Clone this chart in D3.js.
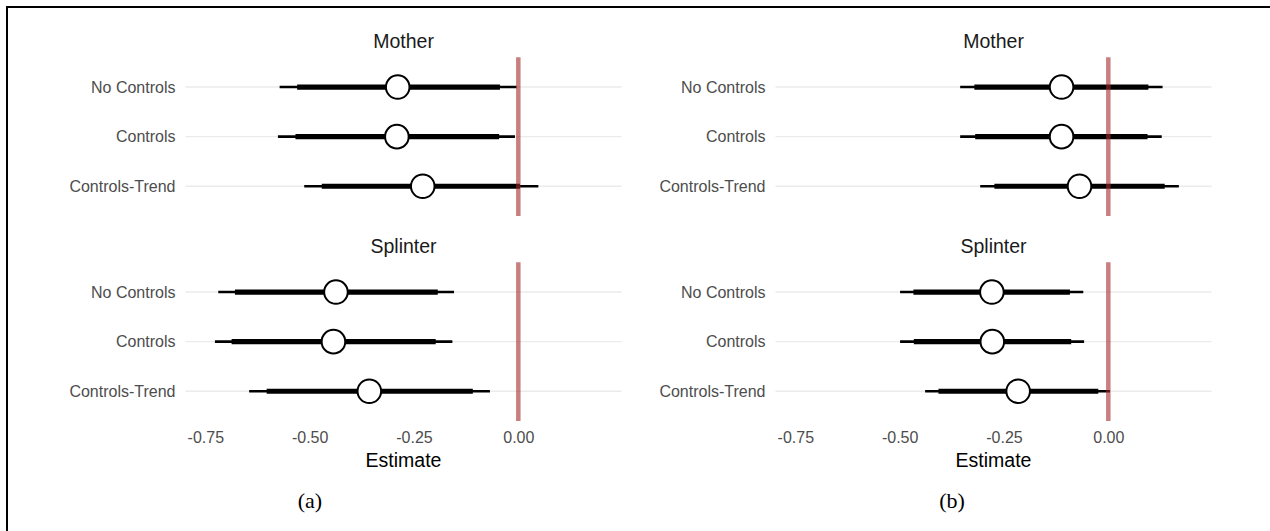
<!DOCTYPE html>
<meta charset="utf-8">
<style>
body { margin: 0; background: #fff; }
svg { display: block; font-family: "Liberation Sans", Arial, sans-serif; }
.grid line { stroke: #ebebeb; stroke-width: 1.4; }
.axis text { fill: #4d4d4d; font-size: 16px; }
.axis path { display: none; }
.strip { fill: #1a1a1a; font-size: 19.5px; text-anchor: middle; }
.xtitle { fill: #000; font-size: 19.5px; text-anchor: middle; }
.tag { font-family: "Liberation Serif", "Times New Roman", serif; font-size: 22px; text-anchor: middle; }
</style>
<body>
<script src="https://cdn.jsdelivr.net/npm/d3@7"></script>
<script>

// models on the y axis, facets, x ticks
var models = ["No Controls", "Controls", "Controls-Trend"];
var groups = ["Mother", "Splinter"];
var xTicks = [-0.75, -0.5, -0.25, 0];
var xLimits = [-0.75, 0.2];

// plot (a): Mother rows then Splinter rows
var aEst  = [-0.289, -0.291, -0.229, -0.437, -0.443, -0.357];
var aLo90 = [-0.530, -0.534, -0.471, -0.679, -0.687, -0.603];
var aHi90 = [-0.044, -0.046, 0.004, -0.193, -0.198, -0.109];
var aLo95 = [-0.572, -0.576, -0.513, -0.719, -0.727, -0.645];
var aHi95 = [-0.004, -0.008, 0.048, -0.154, -0.158, -0.068];

// plot (b)
var bEst  = [-0.112, -0.112, -0.069, -0.279, -0.278, -0.216];
var bLo90 = [-0.321, -0.319, -0.273, -0.467, -0.466, -0.407];
var bHi90 = [0.096, 0.094, 0.135, -0.092, -0.089, -0.024];
var bLo95 = [-0.355, -0.355, -0.307, -0.499, -0.499, -0.439];
var bHi95 = [0.130, 0.128, 0.169, -0.060, -0.058, 0.004];

var W = 1270, H = 531;
var svg = d3.select("body").append("svg")
    .attr("width", W)
    .attr("height", H);

// outer frame, runs off the right and bottom edge
svg.append("rect")
    .attr("x", 7).attr("y", 7)
    .attr("width", W + 20).attr("height", H + 20)
    .attr("fill", "none")
    .attr("stroke", "#000")
    .attr("stroke-width", 2);

var panelTops = [57.3, 262.3], panelH = 158.7;

function buildRows(est, lo90, hi90, lo95, hi95) {
  var rows = [];
  groups.forEach(function(g, gi) {
    models.forEach(function(m, mi) {
      var i = gi * models.length + mi;
      rows.push({group: g, model: m, est: est[i], lo90: lo90[i], hi90: hi90[i], lo95: lo95[i], hi95: hi95[i]});
    });
  });
  return rows;
}

function drawPlot(x0, x1, rows, tag, tagX) {
  var pad = (xLimits[1] - xLimits[0]) * 0.05;
  var x = d3.scaleLinear()
      .domain([xLimits[0] - pad, xLimits[1] + pad])
      .range([x0, x1]);

  groups.forEach(function(g, gi) {
    var top = panelTops[gi];
    var y = d3.scalePoint()
        .domain(models)
        .range([top, top + panelH])
        .padding(0.6);
    var data = rows.filter(function(d) { return d.group === g; });
    var p = svg.append("g");

    // horizontal grid
    p.append("g").attr("class", "grid")
      .selectAll("line").data(models).enter().append("line")
        .attr("x1", x0).attr("x2", x1)
        .attr("y1", function(d) { return y(d); })
        .attr("y2", function(d) { return y(d); });

    // y axis labels
    p.append("g")
        .attr("class", "axis")
        .attr("transform", "translate(" + x0 + ",0)")
        .call(d3.axisLeft(y).tickSize(0).tickPadding(10));

    // facet title
    p.append("text")
        .attr("class", "strip")
        .attr("x", (x0 + x1) / 2)
        .attr("y", top - 9.5)
        .text(g);

    // 95% thin
    p.selectAll(".ci95").data(data).enter().append("line")
        .attr("x1", function(d) { return x(d.lo95); })
        .attr("x2", function(d) { return x(d.hi95); })
        .attr("y1", function(d) { return y(d.model); })
        .attr("y2", function(d) { return y(d.model); })
        .attr("stroke", "#000").attr("stroke-width", 2.6);

    // 90% thick
    p.selectAll(".ci90").data(data).enter().append("line")
        .attr("x1", function(d) { return x(d.lo90); })
        .attr("x2", function(d) { return x(d.hi90); })
        .attr("y1", function(d) { return y(d.model); })
        .attr("y2", function(d) { return y(d.model); })
        .attr("stroke", "#000").attr("stroke-width", 5.2);

    // zero line
    p.append("line")
        .attr("x1", x(0)).attr("x2", x(0))
        .attr("y1", top).attr("y2", top + panelH)
        .attr("stroke", "#a52a2a")
        .attr("stroke-opacity", 0.6)
        .attr("stroke-width", 4.5);

    // point estimates
    p.selectAll("circle").data(data).enter().append("circle")
        .attr("cx", function(d) { return x(d.est); })
        .attr("cy", function(d) { return y(d.model); })
        .attr("r", 11.8)
        .attr("fill", "#fff")
        .attr("stroke", "#000")
        .attr("stroke-width", 2);

    if (gi === groups.length - 1) {
      p.append("g")
          .attr("class", "axis")
          .attr("transform", "translate(0," + (top + panelH) + ")")
          .call(d3.axisBottom(x)
            .tickValues(xTicks)
            .tickSize(0)
            .tickPadding(11)
            .tickFormat(function(d) { return d.toFixed(2); }));
    }
  });

  svg.append("text")
      .attr("class", "xtitle")
      .attr("x", (x0 + x1) / 2)
      .attr("y", 467)
      .text("Estimate");

  svg.append("text")
      .attr("class", "tag")
      .attr("x", tagX)
      .attr("y", 508)
      .text(tag);
}

drawPlot(185.5, 621.6, buildRows(aEst, aLo90, aHi90, aLo95, aHi95), "(a)", 310);
drawPlot(775.5, 1211.6, buildRows(bEst, bLo90, bHi90, bLo95, bHi95), "(b)", 952);

</script>
</body>
